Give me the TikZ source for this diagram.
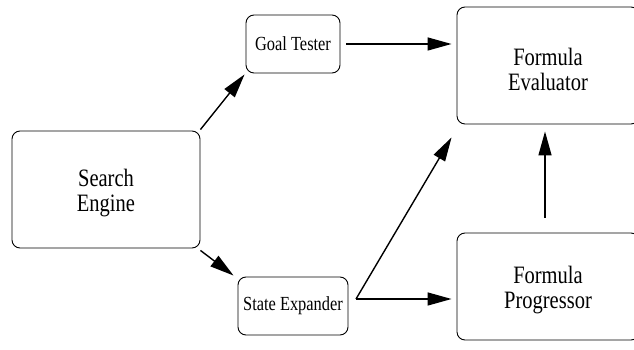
\documentclass[tikz,border=0pt]{standalone}
\usepackage{fontspec}
\setmainfont[FakeStretch=0.82]{Liberation Serif}
\usetikzlibrary{arrows.meta}
\tikzset{
  bigbox/.style={draw,line width=0.9pt,rounded corners=8pt,align=center,text height=50pt,font=\fontsize{25}{25}\selectfont},
  smallbox/.style={draw,line width=0.9pt,rounded corners=8pt,align=center,font=\fontsize{20}{22}\selectfont},
  flow/.style={line width=1.4pt,-{Triangle[length=24pt,width=13pt]}}
}
\begin{document}
\begin{tikzpicture}[x=1pt,y=1pt]
                        \clip (0,0) rectangle (634,350);
                        \node[bigbox,minimum width=188pt,minimum height=117pt] (engine) at (106,160.5) {Search\\Engine};
                        \node[smallbox,minimum width=94pt,minimum height=58pt] (goal) at (293,306) {Goal Tester};
                        \node[smallbox,minimum width=110pt,minimum height=58pt] (expander) at (293,44) {State Expander};
                        \node[bigbox,minimum width=182pt,minimum height=117pt] (evaluator) at (548,284.5) {Formula\\Evaluator};
                        \node[bigbox,minimum width=182pt,minimum height=107pt] (progressor) at (548,63.5) {Formula\\Progressor};
                        \coordinate (split) at (356,51);
                        \draw[flow] (engine.north east) ++(0,1) -- ([shift={(-1,-1)}]goal.south west);
                        \draw[flow] ([xshift=6pt]goal.east) -- ([xshift=-5pt]evaluator.west |- goal.east);
                        \draw[flow] (engine.south east) ++(0,-2) -- ([shift={(-4,1)}]expander.north west);
                        \draw[flow] (split) -- ([xshift=-5pt]progressor.west |- split);
                        \draw[flow] (split) -- ([shift={(-5,-13)}]evaluator.south west);
                        \draw[flow] ([shift={(-3,15)}]progressor.north) -- ([shift={(-3,-7)}]evaluator.south);
                    \end{tikzpicture}
\end{document}
